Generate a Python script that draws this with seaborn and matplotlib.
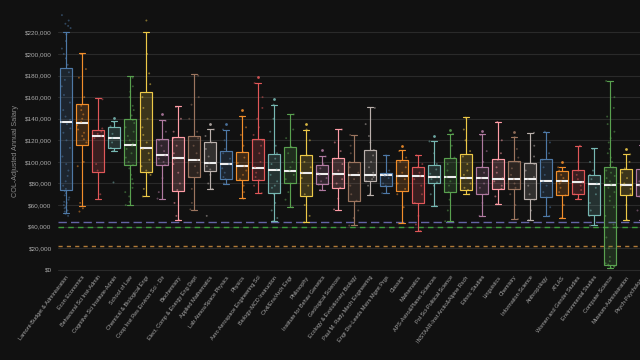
import numpy as np
import pandas as pd
import matplotlib
matplotlib.use("Agg")
import matplotlib.pyplot as plt
from matplotlib.colors import same_color, to_rgb
from matplotlib.ticker import FuncFormatter
import seaborn as sns

# ─── DATA (thousands of USD, COL-adjusted) ────────────────────────────────────
DEPTS = [
    "Lamont-Budget & Administration", "Econ Economics", "Behavioral Sci Inst-Admin",
    "Cognitive Sci Institute-Admin", "School of Law", "Chemical & Biological Engr",
    "Coop Inst Res Environ Sci - Dir", "Biochemistry", "Elect, Comp & Energy Eng Dept",
    "Applied Mathematics", "Lab Atmos/Space Physics", "Physics",
    "Aero Aerospace Engineering Sci", "Biology-MCD Instruction", "Civil/Env/Arch Engr",
    "Philosophy", "Institute for Behav Genetics", "Geological Sciences",
    "Ecology & Evolutionary Biology", "Paul M. Rady Mech Engineering",
    "Engr Div-Leeds Mstrs Mgmt Prgs", "Classics", "Mathematics",
    "APS-Astro&Planet Sciences", "Pol Sci-Political Science",
    "INSTAAR-Inst Arctic&Alpine Rsch", "Ethnic Studies", "Linguistics", "Chemistry",
    "Information Science", "Anthropology", "ATLAS", "Women and Gender Studies",
    "Environmental Studies", "Computer Science", "Museum-Administration",
    "Psych-Psychology",
]

# box summary
WHISK_LO = [53, 58.8, 66, 109.8, 59.7, 68, 66, 46.4, 55.7, 75.2, 79.8, 66.2, 71.2,
            45.2, 57.9, 44, 73.6, 55.7, 41.1, 69.6, 70.9, 43.3, 35.6, 58.8, 44.9,
            70.3, 50.1, 61.3, 46.7, 45.8, 49.5, 48, 65.6, 41.1, 1.9, 46.4, 46]
Q1 = [73.6, 115.8, 91, 112.6, 97.2, 90.3, 97.2, 73.4, 86, 92, 84.2, 83.6, 83,
      70.9, 80.5, 68.7, 79.5, 75.8, 63.7, 82.3, 77.7, 72.8, 61.9, 80.1, 72.1,
      74, 70.6, 74.9, 74.9, 65.6, 67.5, 69.3, 69.9, 50.8, 4.6, 69.3, 68]
MEDIAN = [136.8, 136.2, 124.4, 122.3, 115.8, 113, 106.8, 103.7, 102, 98.7, 98, 95.9,
          94.4, 92.9, 91.6, 89.8, 89.1, 88.5, 88.2, 87.9, 87.6, 87.3, 87, 86, 85.7,
          85.5, 84.8, 84.5, 84.5, 83.9, 82.3, 82, 81.4, 79.8, 78.9, 78.6, 78.6]
Q3 = [187, 153.8, 130, 132.5, 140, 165, 121.3, 123.2, 124.4, 118.2, 110.5, 109.3,
      121.3, 107.7, 113.9, 106.5, 96.8, 103.4, 99.6, 110.8, 89.4, 101.8, 95.3, 97.5,
      104, 107.4, 95.3, 102.7, 100.9, 98.7, 102.7, 91.9, 92.5, 87.9, 95.6, 93.8, 93.8]
WHISK_HI = [220.7, 201, 159, 137.7, 180, 220.7, 138.6, 151.6, 181, 130.6, 130, 142.7,
            173.3, 153, 144.6, 130, 105.5, 130.6, 125, 150.8, 106.8, 110.8, 106.8,
            119.2, 126.3, 141.4, 125.4, 137.1, 123.2, 126.9, 128.1, 95.3, 115, 112.8,
            175.2, 107.4, 116]

# outliers drawn above the caps
FLIER_DEPTS = ["Cognitive Sci Institute-Admin", "Coop Inst Res Environ Sci - Dir",
               "Applied Mathematics", "Lab Atmos/Space Physics", "Physics",
               "Aero Aerospace Engineering Sci", "Biology-MCD Instruction", "Philosophy",
               "Institute for Behav Genetics", "Classics", "APS-Astro&Planet Sciences",
               "Pol Sci-Political Science", "Ethnic Studies", "Chemistry", "ATLAS",
               "Museum-Administration"]
FLIER_VALUES = [141, 144, 135, 135, 148, 179, 158, 135, 111, 115, 124, 130, 129, 128,
                100, 112]

# individual salaries (jittered dots)
POINTS = [
    [236, 231, 228, 226, 224, 218, 212, 205, 200, 196, 190, 183, 176, 170, 162, 155,
     148, 142, 139, 137, 135, 131, 127, 120, 113, 105, 98, 92, 87, 82, 78, 75, 73, 71,
     69, 67, 65, 63, 62, 60, 58, 57, 55, 54, 52, 50],
    [200, 186, 178, 160, 152, 148, 144, 140, 137, 134, 130, 127, 124, 121, 118, 100,
     96, 62, 57, 54],
    [158, 131, 128, 126, 124, 122, 98, 92, 70],
    [137, 133, 126, 122, 118, 113, 110, 81],
    [178, 170, 165, 160, 152, 148, 143, 139, 136, 132, 128, 124, 120, 117, 115, 112,
     108, 104, 100, 97, 94, 88, 84, 80, 76, 72, 68, 63, 60],
    [231, 200, 182, 172, 160, 150, 140, 132, 125, 118, 112, 108, 102, 96, 92, 90, 88,
     75, 68],
    [138, 128, 120, 115, 110, 106, 103, 100, 97, 85, 72, 66],
    [151, 140, 128, 122, 115, 108, 103, 98, 90, 80, 74, 62, 50, 46],
    [180, 160, 153, 140, 128, 122, 115, 108, 102, 96, 90, 86, 75, 62, 56],
    [130, 124, 118, 112, 105, 99, 96, 93, 88, 80, 75, 50],
    [130, 120, 112, 108, 103, 98, 94, 90, 86, 84, 80],
    [142, 132, 125, 115, 109, 104, 99, 96, 92, 88, 84, 78, 72, 66],
    [173, 160, 150, 140, 132, 125, 120, 115, 108, 100, 95, 90, 86, 83, 78, 71],
    [153, 140, 128, 115, 108, 103, 98, 93, 88, 82, 78, 76, 70, 62, 55, 48, 45],
    [144, 130, 122, 114, 108, 100, 95, 92, 88, 84, 80, 72, 65, 58],
    [130, 120, 106, 100, 95, 90, 85, 78, 70, 60, 50, 44],
    [105, 98, 94, 90, 88, 85, 82, 79, 74],
    [130, 118, 110, 103, 98, 92, 88, 84, 80, 76, 66, 56],
    [125, 115, 108, 100, 95, 90, 88, 84, 78, 70, 64, 55, 48, 41],
    [150, 135, 124, 118, 111, 106, 100, 95, 90, 88, 86, 84, 82, 78, 70],
    [106, 92, 89, 88, 87, 85, 80, 78, 71],
    [110, 104, 100, 95, 90, 87, 84, 80, 75, 70, 58, 43],
    [106, 98, 95, 90, 87, 84, 78, 70, 62, 50, 42, 36],
    [119, 108, 98, 93, 89, 86, 84, 81, 78, 70, 59],
    [126, 115, 104, 98, 92, 86, 82, 78, 72, 65, 55, 45],
    [141, 130, 120, 110, 105, 98, 92, 88, 85, 80, 76, 74, 70],
    [125, 110, 100, 95, 90, 85, 80, 76, 70, 62, 50],
    [137, 120, 108, 102, 95, 90, 85, 82, 78, 75, 68, 61],
    [123, 112, 104, 100, 94, 88, 84, 80, 76, 70, 60, 47],
    [127, 115, 105, 98, 92, 86, 84, 78, 70, 65, 55, 46],
    [128, 118, 108, 102, 95, 88, 82, 78, 72, 67, 58, 50],
    [95, 92, 88, 85, 82, 80, 76, 72, 69, 60, 48],
    [115, 100, 92, 88, 84, 81, 78, 74, 70, 66],
    [112, 100, 92, 88, 84, 80, 76, 70, 62, 55, 50, 41],
    [175, 160, 150, 142, 135, 128, 122, 118, 112, 108, 104, 100, 97, 95, 92, 90, 87,
     85, 82, 79, 76, 72, 68, 64, 58, 50, 42, 30, 20, 12, 8, 6, 5, 4, 3, 3, 2],
    [107, 100, 94, 90, 85, 80, 78, 75, 70, 60, 46],
    [116, 105, 94, 88, 82, 78, 74, 68, 55, 46],
]

# reference lines (thousands)
REF_LEVELS = [44.5, 40, 22.5]
REF_COLORS = ["#6464a6", "#3c9c3c", "#b07a38"]
REF_DASHES = [(6, 3), (4, 3), (3, 3)]

TABLEAU = ["#4e79a7", "#f28e2b", "#e15759", "#76b7b2", "#59a14f",
           "#edc948", "#b07aa1", "#ff9da7", "#9c755f", "#bab0ac"]

BG = "#111111"
SENTINEL = "#123456"

# ─── FRAMES ───────────────────────────────────────────────────────────────────
pal = [TABLEAU[i % len(TABLEAU)] for i in range(len(DEPTS))]
pal_map = dict(zip(DEPTS, pal))

box_rows = []
for i, d in enumerate(DEPTS):
    for v in (WHISK_LO[i], Q1[i], MEDIAN[i], Q3[i], WHISK_HI[i]):
        box_rows.append((d, v * 1000))
box_df = pd.DataFrame(box_rows, columns=["dept", "salary"])

pt_rows = [(d, v * 1000) for d, vals in zip(DEPTS, POINTS) for v in vals]
pt_df = pd.DataFrame(pt_rows, columns=["dept", "salary"])

fl_df = pd.DataFrame({"dept": FLIER_DEPTS, "salary": [v * 1000 for v in FLIER_VALUES]})

# ─── PLOT ─────────────────────────────────────────────────────────────────────
sns.set_style("dark")
plt.rcParams["font.family"] = ["Liberation Sans", "DejaVu Sans"]

fig = plt.figure(figsize=(6.4, 3.6), dpi=100, facecolor=BG)
ax = fig.add_axes([58 / 640, 88 / 360, 592 / 640, 272 / 360], facecolor=BG)

for lvl, c, dsh in zip(REF_LEVELS, REF_COLORS, REF_DASHES):
    ax.axhline(lvl * 1000, color=c, lw=1.0, dashes=dsh, zorder=1)

sns.boxplot(data=box_df, x="dept", y="salary", hue="dept", order=DEPTS,
            hue_order=DEPTS, palette=pal_map, legend=False, whis=(0, 100),
            width=0.72, saturation=1, linecolor=SENTINEL, linewidth=0.85,
            showfliers=False,
            medianprops={"color": "#eeeeee", "linewidth": 1.5},
            ax=ax)

# colour the box outlines / whiskers like the fill, and dim the fill
for patch in ax.patches:
    idx = int(round(patch.get_path().vertices[:, 0].mean()))
    c = pal[idx]
    patch.set_facecolor((*to_rgb(c), 0.2))
    patch.set_edgecolor(c)
for line in ax.lines:
    if same_color(line.get_color(), SENTINEL):
        idx = int(round(np.mean(line.get_xdata())))
        line.set_color(pal[idx])

np.random.seed(7)
sns.stripplot(data=pt_df, x="dept", y="salary", hue="dept", order=DEPTS,
              hue_order=DEPTS, palette=pal_map, legend=False, jitter=0.3,
              size=1.4, alpha=0.5, linewidth=0, ax=ax)
sns.stripplot(data=fl_df, x="dept", y="salary", hue="dept", order=DEPTS,
              hue_order=DEPTS, palette=pal_map, legend=False, jitter=False,
              size=2.0, alpha=0.9, linewidth=0, ax=ax)

ax.set_xlim(-0.5, len(DEPTS) - 0.5)
ax.set_ylim(-2000, 250000)
ax.set_yticks(range(0, 220001, 20000))
ax.yaxis.set_major_formatter(FuncFormatter(lambda v, _: f"${v:,.0f}"))
ax.grid(axis="y", color="#2a2a2a", lw=0.8)
ax.grid(axis="x", visible=False)
ax.set_axisbelow(True)
for s in ax.spines.values():
    s.set_visible(False)

ax.tick_params(axis="y", colors="#aaaaaa", labelsize=4.6, length=3, width=0.6, pad=1.5)
ax.tick_params(axis="x", colors="#aaaaaa", labelsize=4.0, length=0, pad=2)
plt.setp(ax.get_xticklabels(), rotation=53, ha="right", rotation_mode="anchor")

ax.set_xlabel("")
ax.set_ylabel("COL-Adjusted Annual Salary", color="#8a8a8a", fontsize=5.2)
ax.yaxis.set_label_coords(-0.066, 0.445)

fig.savefig("out.png", dpi=100, facecolor=BG)
plt.close(fig)
